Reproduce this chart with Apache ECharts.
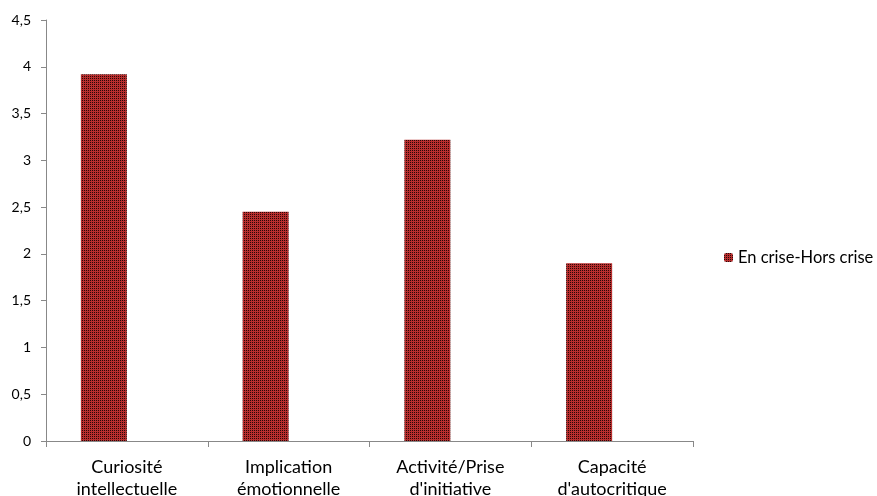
<!DOCTYPE html>
<html>
<head>
<meta charset="utf-8">
<script src="https://cdn.jsdelivr.net/npm/echarts@6/dist/echarts.min.js"></script>
<style>
html, body { margin: 0; padding: 0; background: #fff; }
#chart { width: 877px; height: 496px; }
</style>
</head>
<body>
<div id="chart"></div>
<script>
var categories = ['Curiosité\nintellectuelle', 'Implication\némotionnelle', "Activité/Prise\nd'initiative", "Capacité\nd'autocritique"];
var seriesName = 'En crise-Hors crise';
var values = [3.92, 2.45, 3.22, 1.90];
// série vide d'Excel qui décale les barres à gauche
var emptyValues = ['-', '-', '-', '-'];

// motif damier rouge/noir des barres
function makePattern() {
    var c = document.createElement('canvas');
    c.width = 4;
    c.height = 4;
    var ctx = c.getContext('2d');
    ctx.fillStyle = '#b82e2e';
    ctx.fillRect(0, 0, 4, 4);
    ctx.fillStyle = '#2a0808';
    ctx.fillRect(0, 0, 1, 1);
    ctx.fillRect(2, 2, 1, 1);
    ctx.fillRect(2, 0, 1, 1);
    ctx.fillRect(0, 2, 1, 1);
    return c;
}
var pattern = { image: makePattern(), repeat: 'repeat' };

var chartDom = document.getElementById('chart');
var chart = echarts.init(chartDom);
var option = {
    animation: false,
    textStyle: { fontFamily: 'Lato' },
    legend: {
        data: [seriesName],
        orient: 'vertical',
        left: 719,
        top: 244,
        itemWidth: 9,
        itemHeight: 9,
        itemGap: 6,
        textStyle: { fontSize: 16.5, color: '#000', fontFamily: 'Lato' }
    },
    grid: {
        left: 46,
        right: 184,
        top: 20,
        bottom: 55,
        outerBoundsMode: 'none'
    },
    xAxis: {
        type: 'category',
        data: categories,
        axisLine: { lineStyle: { color: '#888' } },
        axisTick: { show: true, length: 6, inside: false, lineStyle: { color: '#888' } },
        axisLabel: { color: '#000', fontSize: 18, lineHeight: 22, margin: 15, fontFamily: 'Lato' }
    },
    yAxis: {
        type: 'value',
        min: 0,
        max: 4.5,
        interval: 0.5,
        splitLine: { show: false },
        axisLine: { show: true, lineStyle: { color: '#888' } },
        axisTick: { show: true, length: 5, lineStyle: { color: '#888' } },
        axisLabel: {
            color: '#000',
            fontSize: 14,
            margin: 15,
            fontFamily: 'Lato',
            formatter: function (v) { return String(v).replace('.', ','); }
        }
    },
    series: [
        {
            name: seriesName,
            type: 'bar',
            barWidth: 46,
            barGap: '0%',
            data: values,
            itemStyle: { color: pattern }
        },
        {
            name: 'vide',
            type: 'bar',
            barWidth: 46,
            data: emptyValues
        }
    ]
};
chart.setOption(option);
</script>
</body>
</html>
